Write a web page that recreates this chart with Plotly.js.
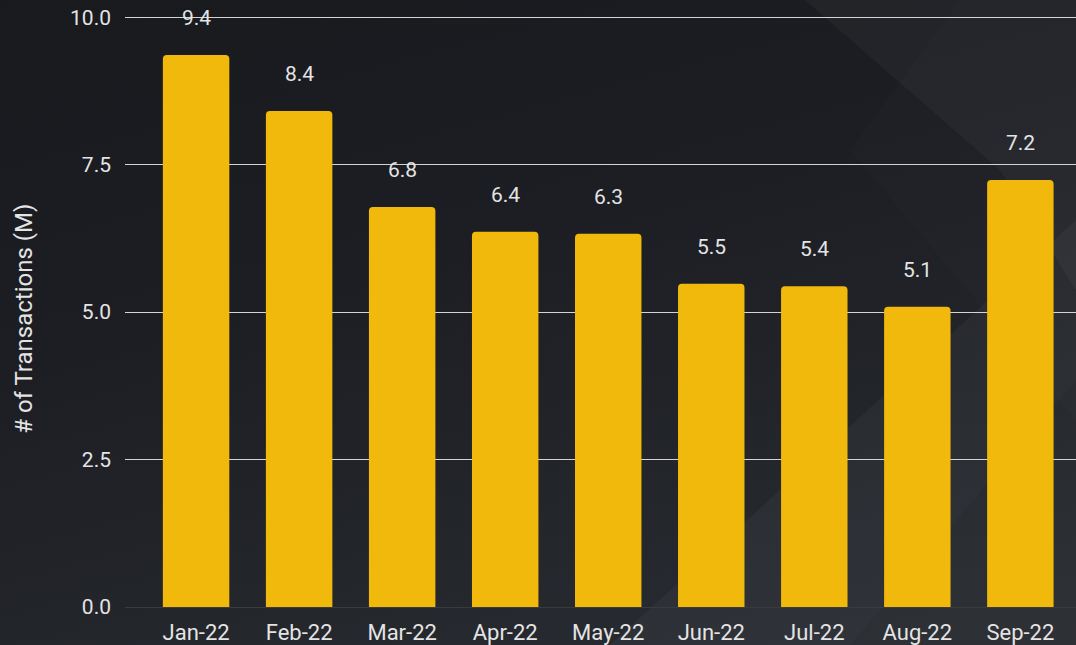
<!DOCTYPE html>
<html><head><meta charset="utf-8">
<script src="https://cdn.plot.ly/plotly-3.0.1.min.js"></script>
<style>
html,body{margin:0;padding:0;width:1076px;height:645px;overflow:hidden;background:linear-gradient(165deg,#181a1e 0%,#1c1e23 40%,#2a2d33 100%);}
#bg{position:absolute;left:0;top:0;width:1076px;height:645px;}
#chart{position:absolute;left:0;top:0;width:1076px;height:645px;}
</style></head>
<body>
<svg id="bg" viewBox="0 0 1076 645">
<polygon points="805,0 1076,0 1076,290 1000,170" fill="rgba(255,255,255,0.035)"/>
<polygon points="1076,220 1076,645 610,645" fill="rgba(255,255,255,0.035)"/>
<polygon points="1076,380 1076,645 850,645" fill="rgba(0,0,0,0.06)"/>
<polygon points="960,0 1076,0 1076,420 850,150" fill="rgba(255,255,255,0.012)"/>
</svg>
<div id="chart"></div>
<script>
const categories = ["Jan-22","Feb-22","Mar-22","Apr-22","May-22","Jun-22","Jul-22","Aug-22","Sep-22"];
const transactions = [9.36, 8.41, 6.78, 6.36, 6.33, 5.48, 5.44, 5.09, 7.24];
const yTicks = [0, 2.5, 5, 7.5, 10];
const yTickLabels = ["0.0","2.5","5.0","7.5","10.0"];
const yTitle = "# of Transactions (M)";

const font = {family:"Roboto, 'Open Sans', sans-serif", color:"#e4e4e4"};
const trace = {
  type:"bar", x:categories, y:transactions,
  marker:{color:"#F0B90B", cornerradius:4},
  width:0.645, hoverinfo:"x+y"
};
const annotations = categories.map((c,i)=>({
  x:c, y:transactions[i], xref:"x", yref:"y",
  text:transactions[i].toFixed(1), showarrow:false,
  yshift:37, font:Object.assign({}, font, {size:21})
}));
annotations.push({
  xref:"paper", yref:"paper", x:-0.107, y:0.488, xanchor:"center", yanchor:"middle",
  text:yTitle, textangle:-90, showarrow:false,
  font:Object.assign({}, font, {size:24})
});
const layout = {
  width:1076, height:645,
  margin:{l:125, r:0, t:16, b:38},
  paper_bgcolor:"rgba(0,0,0,0)", plot_bgcolor:"rgba(0,0,0,0)",
  showlegend:false,
  font:font,
  xaxis:{type:"category", range:[-0.69, 8.54], showgrid:false, zeroline:false,
    showline:false, ticks:"", tickfont:Object.assign({}, font, {size:22}), ticklabelstandoff:10},
  yaxis:{range:[0,10.02], tickvals:yTicks, ticktext:yTickLabels, showgrid:true,
    gridcolor:"#d4d4d4", gridwidth:1, zeroline:true, zerolinecolor:"#3b3b3b", zerolinewidth:1,
    showline:false, ticks:"", tickfont:Object.assign({}, font, {size:21}), ticklabelstandoff:13},
  annotations:annotations
};
Plotly.newPlot("chart",[trace],layout,{staticPlot:true,displayModeBar:false});
</script>
</body></html>
